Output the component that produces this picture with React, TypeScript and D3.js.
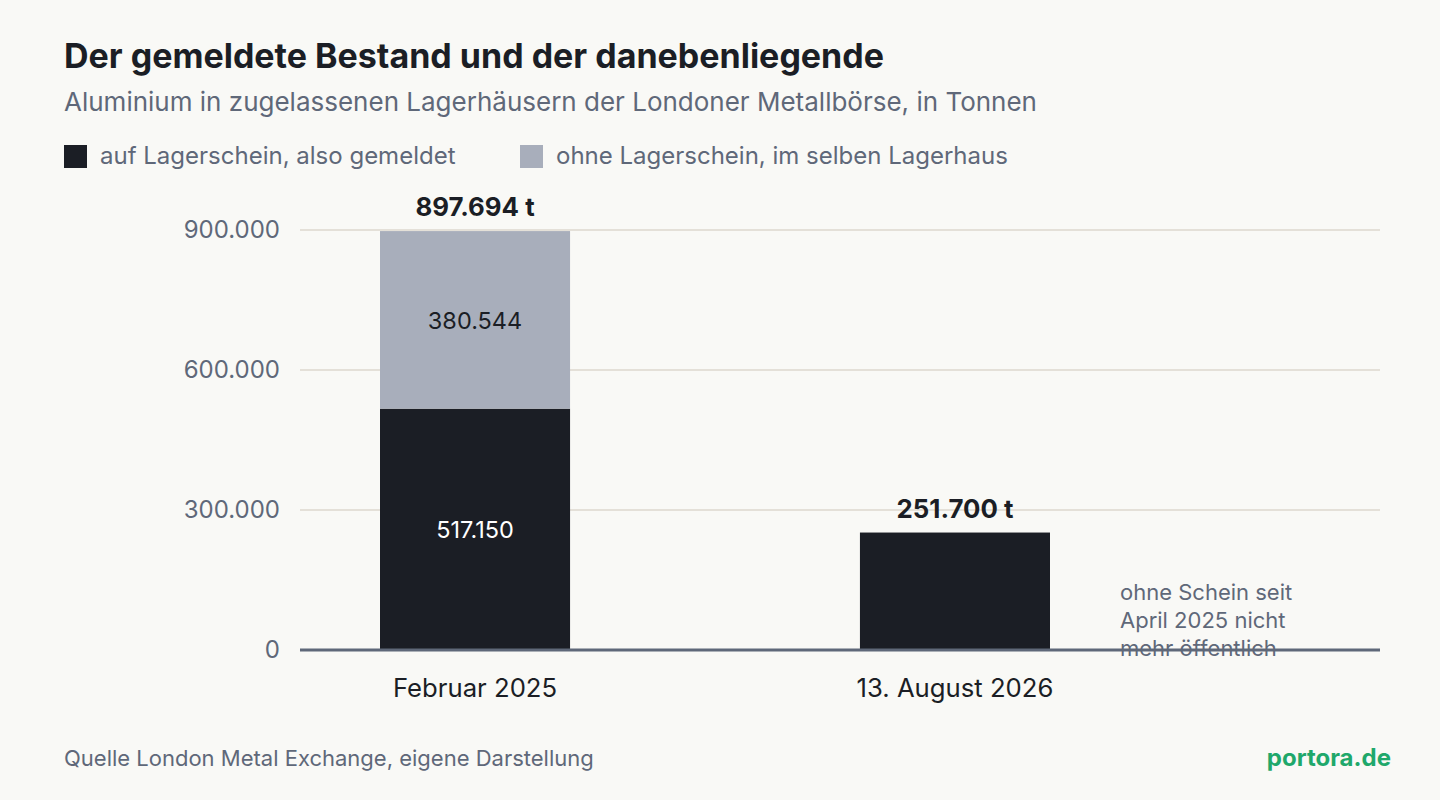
import React from "react";
import * as d3 from "d3";

const categories = ["Februar 2025", "13. August 2026"];
const gemeldet = [517150, 251700];
const ohneSchein: (number | null)[] = [380544, null];
const totals = [897694, 251700];
const yTicks = [0, 300000, 600000, 900000];
const legendLabels = ["auf Lagerschein, also gemeldet", "ohne Lagerschein, im selben Lagerhaus"];
const annotationLines = ["ohne Schein seit", "April 2025 nicht", "mehr öffentlich"];

const W = 1440;
const H = 800;
const FONT = "Inter, 'Noto Sans', sans-serif";
const DARK = "#1b1e25";
const GREY = "#a8aebb";
const MUTED = "#5f6879";
const BG = "#f9f9f6";

const fmt = (v: number) => d3.format(",")(v).replace(/,/g, ".");

export default function App() {
  const x = d3.scaleBand<string>().domain(categories).range([300, 1130]).paddingInner(0.604).paddingOuter(0.1667);
  const y = d3.scaleLinear().domain([0, 900000]).range([650, 230]);
  const bw = x.bandwidth();

  return (
    <svg width={W} height={H} style={{ display: "block", position: "absolute", left: 0, top: 0 }} fontFamily={FONT}>
      <rect x={0} y={0} width={W} height={H} fill={BG} />
      <text x={64} y={68} fontSize={34} fontWeight={700} fill={DARK}>Der gemeldete Bestand und der danebenliegende</text>
      <text x={64} y={111} fontSize={26} fill={MUTED}>Aluminium in zugelassenen Lagerhäusern der Londoner Metallbörse, in Tonnen</text>

      {legendLabels.map((l, i) => {
        const lx = i === 0 ? 64 : 520;
        return (
          <g key={l}>
            <rect x={lx} y={145} width={23} height={23} fill={i === 0 ? DARK : GREY} />
            <text x={lx + 36} y={164} fontSize={24} fill={MUTED}>{l}</text>
          </g>
        );
      })}

      {yTicks.filter((t) => t > 0).map((t) => (
        <line key={t} x1={300} x2={1380} y1={y(t)} y2={y(t)} stroke="#e4e0d8" strokeWidth={2} />
      ))}
      {yTicks.map((t) => (
        <text key={"l" + t} x={280} y={y(t) + 8} textAnchor="end" fontSize={24} fill={MUTED}>{fmt(t)}</text>
      ))}

      {categories.map((c, i) => {
        const x0 = x(c)!;
        const cx = x0 + bw / 2;
        const g = gemeldet[i];
        const o = ohneSchein[i];
        return (
          <g key={c}>
            <rect x={x0} y={y(g)} width={bw} height={y(0) - y(g)} fill={DARK} />
            {o != null && <rect x={x0} y={y(g + o)} width={bw} height={y(g) - y(g + o)} fill={GREY} />}
            {o != null && (
              <text x={cx} y={(y(g) + y(0)) / 2 + 9} textAnchor="middle" fontSize={23.5} fill="#ffffff">{fmt(g)}</text>
            )}
            {o != null && (
              <text x={cx} y={(y(g + o) + y(g)) / 2 + 9} textAnchor="middle" fontSize={23.5} fill={DARK}>{fmt(o)}</text>
            )}
            <text x={cx} y={y(totals[i]) - 15} textAnchor="middle" fontSize={25.8} fontWeight={700} fill={DARK}>{fmt(totals[i])} t</text>
            <text x={cx} y={697} textAnchor="middle" fontSize={25.7} fill={DARK}>{c}</text>
          </g>
        );
      })}

      {annotationLines.map((l, i) => (
        <text key={l} x={1120} y={600 + i * 28} fontSize={22} fill={MUTED}>{l}</text>
      ))}

      <line x1={300} x2={1380} y1={y(0)} y2={y(0)} stroke={MUTED} strokeWidth={3} />

      <text x={64} y={766} fontSize={22} fill={MUTED}>Quelle London Metal Exchange, eigene Darstellung</text>
      <text x={1391} y={766} textAnchor="end" fontSize={24} fontWeight={700} fill="#1fa86b">portora.de</text>
    </svg>
  );
}
